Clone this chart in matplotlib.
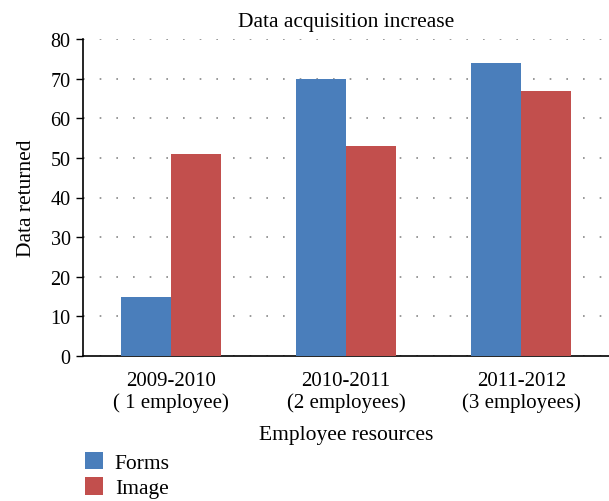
import matplotlib
matplotlib.use("Agg")
import matplotlib.pyplot as plt
import numpy as np

categories = ["2009-2010\n( 1 employee)", "2010-2011\n(2 employees)", "2011-2012\n(3 employees)"]
forms = [15, 70, 74]
image = [51, 53, 67]
yticks = [0, 10, 20, 30, 40, 50, 60, 70, 80]

plt.rcParams['font.family'] = ['Liberation Serif', 'DejaVu Serif']

fig = plt.figure(figsize=(6.09, 5.02), dpi=100)
ax = fig.add_axes([83/609, (502-357)/502, 1 - 83/609, (357-40)/502])

x = np.arange(len(categories))
w = 0.285
b1 = ax.bar(x - w/2, forms, w, color="#4A7EBB", label="Forms", zorder=3)
b2 = ax.bar(x + w/2, image, w, color="#C24F4D", label="Image", zorder=3)

ax.set_xlim(-0.5, 2.5)
ax.set_ylim(0, 80)
ax.set_yticks(yticks)
ax.set_xticks(x)
ax.set_xticklabels(categories, fontsize=15, linespacing=1.15)
ax.tick_params(axis='x', length=0, pad=11)
ax.tick_params(axis='y', length=5, width=1, direction='out', labelsize=14.5, pad=4)
for s in ['top', 'right']:
    ax.spines[s].set_visible(False)
ax.spines['left'].set_linewidth(1.2)
ax.spines['bottom'].set_linewidth(1.2)
ax.yaxis.grid(True, linestyle=(0, (1, 9)), color="#888888", linewidth=1.2, zorder=0)
ax.set_axisbelow(True)

ax.set_title("Data acquisition increase", fontsize=15.5, pad=9)
ax.set_ylabel("Data returned", fontsize=15.5, labelpad=10)
ax.set_xlabel("Employee resources", fontsize=15.5, labelpad=9)

fig.legend(handles=[b1, b2], loc='upper left', bbox_to_anchor=(76/609, 1 - 444/502),
           frameon=False, fontsize=15.5, handlelength=0.85, handleheight=0.85,
           handletextpad=0.55, labelspacing=0.22, borderaxespad=0)

fig.savefig("out.png", dpi=100)
